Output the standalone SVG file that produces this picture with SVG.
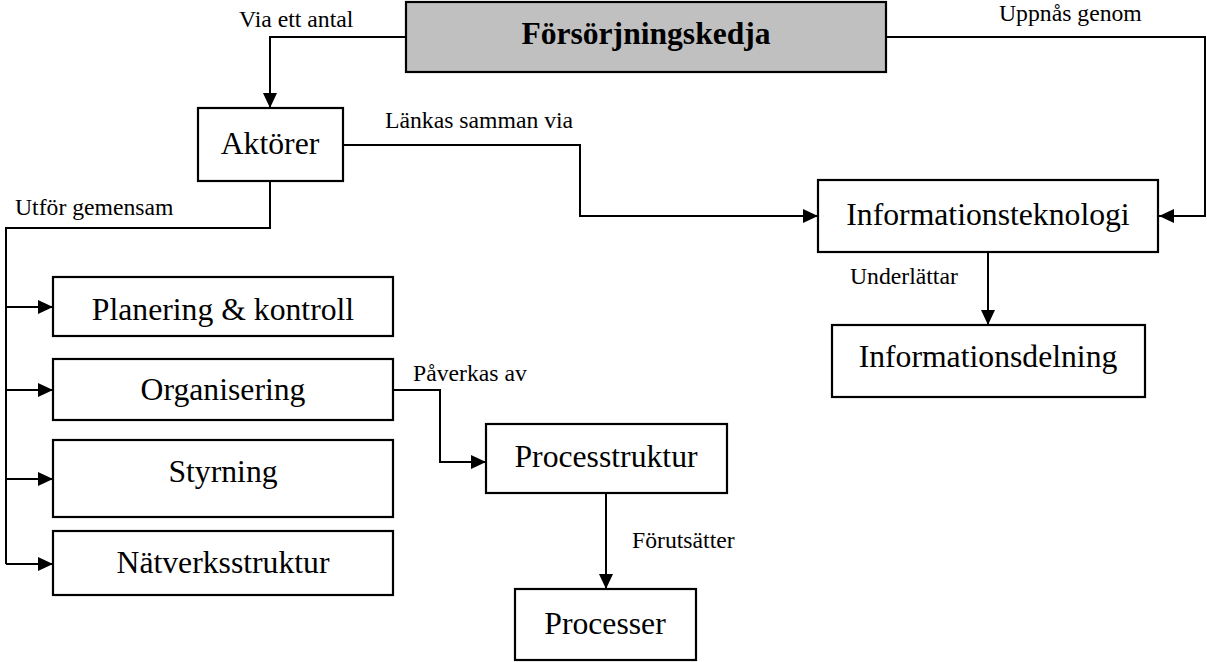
<svg xmlns="http://www.w3.org/2000/svg" width="1207" height="662" viewBox="0 0 1207 662">
  <style>
    .box { fill: #ffffff; stroke: #000000; stroke-width: 2.2; }
    .root { fill: #c0c0c0; stroke: #000000; stroke-width: 2.2; }
    .node-text { font-family: "Liberation Serif", "Times New Roman", serif; font-size: 31.7px; fill: #000000; text-anchor: middle; }
    .root-text { font-family: "Liberation Serif", "Times New Roman", serif; font-size: 31.6px; font-weight: bold; fill: #000000; text-anchor: middle; }
    .label { font-family: "Liberation Serif", "Times New Roman", serif; font-size: 23.7px; fill: #000000; }
    .link { fill: none; stroke: #000000; stroke-width: 2; }
  </style>
  <defs>
    <marker id="arrow" viewBox="0 0 15 14" refX="15" refY="7" markerWidth="15" markerHeight="14" markerUnits="userSpaceOnUse" orient="auto">
      <path d="M0,0 L15,7 L0,14 z" fill="#000000"/>
    </marker>
  </defs>

  <rect width="1207" height="662" fill="#ffffff"/>

  <!-- connectors -->
  <g id="connectors">
    <path class="link" d="M406,37 H270 V108" marker-end="url(#arrow)"/>
    <path class="link" d="M886,37 H1205 V216 H1159" marker-end="url(#arrow)"/>
    <path class="link" d="M343,145 H580 V216 H818" marker-end="url(#arrow)"/>
    <path class="link" d="M988,252 V325" marker-end="url(#arrow)"/>
    <path class="link" d="M270,181 V228 H6 V564"/>
    <path class="link" d="M6,307 H53" marker-end="url(#arrow)"/>
    <path class="link" d="M6,390 H53" marker-end="url(#arrow)"/>
    <path class="link" d="M6,479 H53" marker-end="url(#arrow)"/>
    <path class="link" d="M6,564 H53" marker-end="url(#arrow)"/>
    <path class="link" d="M393,390 H440 V462 H486" marker-end="url(#arrow)"/>
    <path class="link" d="M606,493 V589" marker-end="url(#arrow)"/>

    <text class="label" x="239" y="27">Via ett antal</text>
    <text class="label" x="999" y="21">Uppnås genom</text>
    <text class="label" x="385" y="128">Länkas samman via</text>
    <text class="label" x="15" y="215">Utför gemensam</text>
    <text class="label" x="850" y="284">Underlättar</text>
    <text class="label" x="413" y="381">Påverkas av</text>
    <text class="label" x="632" y="548">Förutsätter</text>
  </g>

  <!-- nodes -->
  <g id="forsorjningskedja">
    <rect class="root" x="406" y="2" width="480" height="70"/>
    <text class="root-text" x="646" y="44">Försörjningskedja</text>
  </g>
  <g id="aktorer">
    <rect class="box" x="198" y="108" width="145" height="73"/>
    <text class="node-text" x="270" y="154">Aktörer</text>
  </g>
  <g id="informationsteknologi">
    <rect class="box" x="818" y="180" width="340" height="72"/>
    <text class="node-text" x="988" y="225">Informationsteknologi</text>
  </g>
  <g id="informationsdelning">
    <rect class="box" x="832" y="325" width="313" height="72"/>
    <text class="node-text" x="988" y="367">Informationsdelning</text>
  </g>
  <g id="planering">
    <rect class="box" x="53" y="277" width="340" height="59"/>
    <text class="node-text" x="223" y="320">Planering &amp; kontroll</text>
  </g>
  <g id="organisering">
    <rect class="box" x="53" y="359" width="340" height="61"/>
    <text class="node-text" x="223" y="400">Organisering</text>
  </g>
  <g id="styrning">
    <rect class="box" x="53" y="440" width="340" height="77"/>
    <text class="node-text" x="223" y="482">Styrning</text>
  </g>
  <g id="natverksstruktur">
    <rect class="box" x="53" y="531" width="340" height="64"/>
    <text class="node-text" x="223" y="573">Nätverksstruktur</text>
  </g>
  <g id="processstruktur">
    <rect class="box" x="486" y="424" width="241" height="69"/>
    <text class="node-text" x="606" y="467">Processtruktur</text>
  </g>
  <g id="processer">
    <rect class="box" x="515" y="589" width="181" height="71"/>
    <text class="node-text" x="605" y="634">Processer</text>
  </g>
</svg>
